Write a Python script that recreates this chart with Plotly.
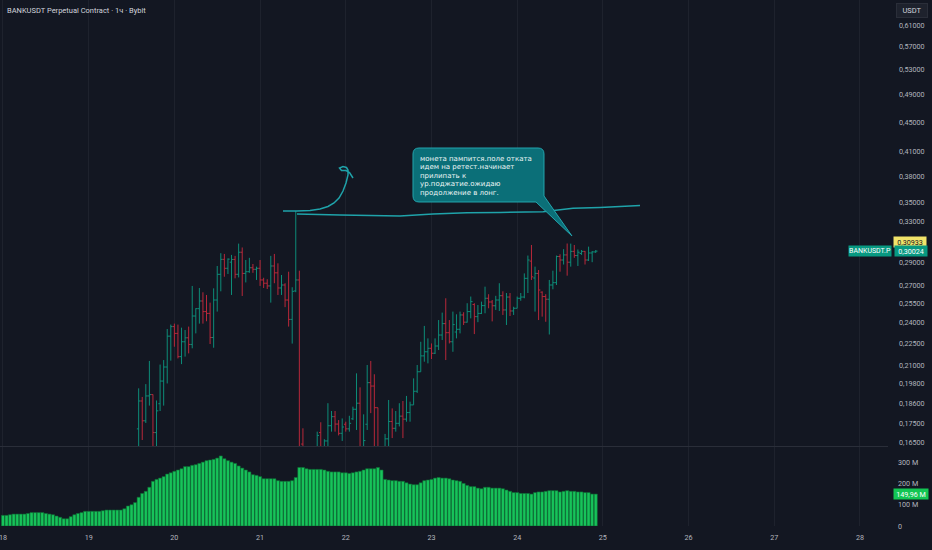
import math
import pandas as pd
import plotly.graph_objects as go
from plotly.subplots import make_subplots

# 1h bars (BANKUSDT.P, Bybit)
price_start = "2025-04-19 14:00"
open_ = [0.1720, 0.1877, 0.1764, 0.1907, 0.1915, 0.1700, 0.1861, 0.1998, 0.2088, 0.2300,
         0.2370, 0.2320, 0.2157, 0.2260, 0.2288, 0.2241, 0.2450, 0.2507, 0.2568, 0.2484,
         0.2470, 0.2290, 0.2576, 0.2792, 0.2926, 0.2845, 0.2900, 0.2925, 0.2792, 0.2992,
         0.2800, 0.2815, 0.2850, 0.2836, 0.2845, 0.2743, 0.2715, 0.2692, 0.2866, 0.2805,
         0.2675, 0.2700, 0.2576, 0.2424, 0.2650, 0.2743, 0.1640, 0.1580, 0.1560, 0.1540,
         0.1580, 0.1700, 0.1600, 0.1656, 0.1737, 0.1787, 0.1746, 0.1696, 0.1745, 0.1720,
         0.1775, 0.1829, 0.1864, 0.1620, 0.1745, 0.1988, 0.1967, 0.1838, 0.1600, 0.1580,
         0.1667, 0.1760, 0.1723, 0.1750, 0.1790, 0.1773, 0.1810, 0.1854, 0.1935, 0.2057,
         0.2162, 0.2190, 0.2214, 0.2180, 0.2230, 0.2308, 0.2392, 0.2325, 0.2260, 0.2330,
         0.2350, 0.2458, 0.2403, 0.2484, 0.2540, 0.2445, 0.2470, 0.2531, 0.2590, 0.2560,
         0.2530, 0.2576, 0.2611, 0.2497, 0.2600, 0.2489, 0.2510, 0.2590, 0.2600, 0.2757,
         0.2910, 0.2760, 0.2800, 0.2640, 0.2604, 0.2582, 0.2700, 0.2720, 0.2952, 0.2920,
         0.2967, 0.2900, 0.3000, 0.2961, 0.2980, 0.3000, 0.2920, 0.2985, 0.2995]
high = [0.1953, 0.1901, 0.1979, 0.2128, 0.1916, 0.1880, 0.2104, 0.2134, 0.2352, 0.2385,
        0.2392, 0.2385, 0.2362, 0.2345, 0.2370, 0.2692, 0.2510, 0.2675, 0.2639, 0.2617,
        0.2555, 0.2672, 0.2866, 0.2983, 0.2976, 0.2935, 0.2967, 0.2958, 0.3074, 0.3037,
        0.2920, 0.2940, 0.2884, 0.2860, 0.2920, 0.2762, 0.2749, 0.2958, 0.2976, 0.2890,
        0.2786, 0.2715, 0.2815, 0.2681, 0.3405, 0.2824, 0.1723, 0.1610, 0.1600, 0.1590,
        0.1705, 0.1756, 0.1665, 0.1864, 0.1819, 0.1819, 0.1768, 0.1777, 0.1759, 0.1792,
        0.1844, 0.2047, 0.1959, 0.1800, 0.2101, 0.2128, 0.2041, 0.1838, 0.1620, 0.1693,
        0.1883, 0.1834, 0.1819, 0.1864, 0.1877, 0.1907, 0.1873, 0.2015, 0.2101, 0.2260,
        0.2375, 0.2284, 0.2248, 0.2284, 0.2419, 0.2476, 0.2590, 0.2419, 0.2484, 0.2463,
        0.2484, 0.2479, 0.2550, 0.2604, 0.2550, 0.2536, 0.2563, 0.2686, 0.2623, 0.2576,
        0.2610, 0.2715, 0.2647, 0.2633, 0.2633, 0.2522, 0.2604, 0.2633, 0.2800, 0.2961,
        0.3061, 0.2860, 0.2830, 0.2647, 0.2623, 0.2743, 0.2824, 0.2961, 0.2973, 0.3021,
        0.3075, 0.3074, 0.3061, 0.3018, 0.3013, 0.3004, 0.3045, 0.3004, 0.3013]
low = [0.1580, 0.1661, 0.1752, 0.1850, 0.1600, 0.1620, 0.1819, 0.1850, 0.1983, 0.2130,
       0.2225, 0.2145, 0.2107, 0.2157, 0.2179, 0.2214, 0.2320, 0.2392, 0.2392, 0.2410,
       0.2244, 0.2218, 0.2484, 0.2647, 0.2771, 0.2795, 0.2617, 0.2757, 0.2765, 0.2609,
       0.2722, 0.2805, 0.2805, 0.2743, 0.2692, 0.2675, 0.2666, 0.2555, 0.2715, 0.2617,
       0.2617, 0.2519, 0.2370, 0.2247, 0.2640, 0.1520, 0.1550, 0.1520, 0.1500, 0.1490,
       0.1550, 0.1560, 0.1560, 0.1580, 0.1705, 0.1705, 0.1685, 0.1656, 0.1705, 0.1705,
       0.1768, 0.1714, 0.1580, 0.1580, 0.1714, 0.1807, 0.1580, 0.1560, 0.1550, 0.1570,
       0.1600, 0.1671, 0.1705, 0.1733, 0.1671, 0.1759, 0.1759, 0.1854, 0.1925, 0.2057,
       0.2123, 0.2112, 0.2141, 0.2175, 0.2202, 0.2272, 0.2134, 0.2248, 0.2190, 0.2284,
       0.2320, 0.2382, 0.2400, 0.2432, 0.2315, 0.2403, 0.2465, 0.2471, 0.2510, 0.2409,
       0.2497, 0.2489, 0.2458, 0.2382, 0.2450, 0.2458, 0.2510, 0.2570, 0.2590, 0.2633,
       0.2743, 0.2484, 0.2419, 0.2445, 0.2406, 0.2312, 0.2664, 0.2700, 0.2815, 0.2879,
       0.2780, 0.2860, 0.2940, 0.2866, 0.2967, 0.2879, 0.2911, 0.2900, 0.2985]
close = [0.1877, 0.1764, 0.1907, 0.1915, 0.1700, 0.1820, 0.1998, 0.2088, 0.2300, 0.2370,
         0.2320, 0.2157, 0.2260, 0.2288, 0.2241, 0.2450, 0.2507, 0.2568, 0.2484, 0.2470,
         0.2290, 0.2576, 0.2792, 0.2926, 0.2845, 0.2928, 0.2925, 0.2792, 0.2992, 0.2800,
         0.2815, 0.2850, 0.2836, 0.2845, 0.2743, 0.2715, 0.2692, 0.2866, 0.2805, 0.2675,
         0.2700, 0.2576, 0.2424, 0.2647, 0.2743, 0.1580, 0.1580, 0.1560, 0.1540, 0.1580,
         0.1685, 0.1600, 0.1656, 0.1737, 0.1787, 0.1746, 0.1696, 0.1730, 0.1720, 0.1750,
         0.1829, 0.1864, 0.1620, 0.1658, 0.1988, 0.1967, 0.1838, 0.1600, 0.1580, 0.1667,
         0.1760, 0.1723, 0.1750, 0.1790, 0.1773, 0.1810, 0.1854, 0.1935, 0.2057, 0.2162,
         0.2190, 0.2214, 0.2180, 0.2230, 0.2308, 0.2392, 0.2325, 0.2260, 0.2385, 0.2350,
         0.2458, 0.2403, 0.2484, 0.2563, 0.2445, 0.2470, 0.2531, 0.2590, 0.2560, 0.2530,
         0.2576, 0.2611, 0.2497, 0.2600, 0.2489, 0.2510, 0.2590, 0.2600, 0.2757, 0.2920,
         0.2770, 0.2800, 0.2658, 0.2604, 0.2582, 0.2700, 0.2720, 0.2952, 0.2920, 0.2967,
         0.2900, 0.3000, 0.2961, 0.2992, 0.3000, 0.2920, 0.2985, 0.2995, 0.30024]

# volume indicator, millions, one bar per hour
volume_start = "2025-04-18 00:00"
volume_m = [50, 50, 53, 56, 56, 56, 56, 59, 63, 63, 63, 63, 59, 56, 53, 47, 41, 34, 34, 44,
            53, 59, 63, 69, 69, 69, 69, 69, 72, 75, 75, 75, 75, 75, 81, 94, 100, 110, 135, 153,
            163, 182, 210, 219, 225, 232, 244, 250, 257, 263, 269, 279, 279, 285, 288, 294, 300, 307, 310, 313,
            319, 329, 316, 307, 300, 294, 282, 272, 263, 254, 241, 238, 232, 222, 222, 222, 222, 213, 210, 210,
            210, 213, 228, 275, 275, 269, 266, 266, 266, 266, 263, 257, 254, 254, 254, 250, 250, 247, 250, 254,
            257, 263, 269, 269, 269, 275, 263, 219, 216, 213, 213, 210, 210, 203, 197, 194, 194, 203, 213, 216,
            219, 225, 228, 225, 225, 222, 216, 213, 210, 200, 191, 185, 185, 178, 175, 182, 182, 178, 178, 178,
            175, 169, 163, 157, 157, 153, 153, 153, 150, 157, 160, 160, 163, 166, 166, 166, 160, 163, 166, 163,
            163, 160, 160, 157, 157, 150, 149.96]

day_ticks = list(range(18, 29))
price_ticks = [0.61, 0.57, 0.53, 0.49, 0.45, 0.41, 0.38, 0.35, 0.33, 0.29, 0.27, 0.255,
               0.24, 0.225, 0.21, 0.198, 0.186, 0.175, 0.165]
volume_ticks = [0, 100, 200, 300]
volume_tick_text = ["0", "100 M", "200 M", "300 M"]

level_price = 0.30933
last_price = 0.30024
last_volume = 149.96

note_lines = ["монета пампится.поле отката", "идем на ретест.начинает", "прилипать к",
              "ур.поджатие.ожидаю", "продолжение в лонг."]

BG = "#131722"
GRID = "#1e222d"
TXT = "#b2b5be"
UP = "#0d8c78"
DOWN = "#b8283a"
DRAW = "#1fa3aa"

# plot area in pixels (used for the hand-drawn bits)
PW, PH = 888, 526


def px(x):
    return x / PW


def py(y):
    return 1 - y / PH


def ru(v, d=5):
    return f"{v:.{d}f}".replace(".", ",")


price_time = pd.date_range(price_start, periods=len(close), freq="h")
volume_time = pd.date_range(volume_start, periods=len(volume_m), freq="h")
t0 = pd.Timestamp(volume_start)
x_range = [t0 - pd.Timedelta(minutes=50), t0 + pd.Timedelta(days=10.327)]
day_vals = [pd.Timestamp(2025, 4, d) for d in day_ticks]

fig = make_subplots(rows=2, cols=1, shared_xaxes=True, vertical_spacing=0.002)

fig.add_trace(go.Ohlc(x=price_time, open=open_, high=high, low=low, close=close,
                      increasing_line_color=UP, decreasing_line_color=DOWN,
                      line_width=1, tickwidth=0.5, hoverinfo="skip"), row=1, col=1)

fig.add_trace(go.Bar(x=volume_time, y=volume_m, marker_color="#17c35a",
                     marker_line_color="#0d6a34", marker_line_width=0.6,
                     hoverinfo="skip"), row=2, col=1)

axis_font = dict(family="Roboto", size=7.2, color=TXT)

fig.update_layout(
    width=932, height=550,
    margin=dict(l=0, r=44, t=0, b=24),
    paper_bgcolor=BG, plot_bgcolor=BG,
    showlegend=False, bargap=0.12,
    font=dict(family="Roboto", size=7.5, color=TXT),
    xaxis=dict(type="date", range=x_range, tickvals=day_vals, showticklabels=False,
               showgrid=True, gridcolor=GRID, gridwidth=1, zeroline=False,
               rangeslider=dict(visible=False), showline=True, linecolor="#2a2e39"),
    xaxis2=dict(type="date", range=x_range, tickvals=day_vals,
                ticktext=[str(d) for d in day_ticks], tickfont=axis_font,
                showgrid=True, gridcolor=GRID, zeroline=False, ticks="",
                ticklabelstandoff=6, ticklabeloverflow="allow",
                rangeslider=dict(visible=False)),
    yaxis=dict(type="log", domain=[80 / PH, 1],
               range=[math.log10(0.1630), math.log10(0.6597)],
               side="right", tickvals=price_ticks, ticktext=[ru(v) for v in price_ticks],
               tickfont=axis_font, showgrid=False, zeroline=False, ticks="",
               ticklabelstandoff=10, automargin=False),
    yaxis2=dict(domain=[0, 79 / PH], range=[0, 371], side="right",
                tickvals=volume_ticks, ticktext=volume_tick_text, tickfont=axis_font,
                showgrid=False, zeroline=False, ticks="",
                ticklabelstandoff=9, automargin=False),
)

shapes = []
# yellow horizontal level + dotted last price line
shapes.append(dict(type="line", xref="paper", yref="y", x0=0, x1=1,
                   y0=math.log10(level_price), y1=math.log10(level_price),
                   line=dict(color="#d4c23c", width=1.5)))
shapes.append(dict(type="line", xref="paper", yref="y", x0=0, x1=1,
                   y0=math.log10(last_price), y1=math.log10(last_price),
                   line=dict(color="#179b86", width=1, dash="dot")))


def poly(points):
    return "M " + " L ".join(f"{px(x):.5f},{py(y):.5f}" for x, y in points)


# hand drawn curve with hook
curve = [(283, 211), (297, 211), (310, 210.5), (320, 209), (328, 206.5), (334, 203),
         (339, 198), (343, 191), (346, 183), (348, 175), (348, 170), (346.5, 167.5),
         (343, 166.5), (339.5, 168), (341.5, 170.5), (346, 170.5), (349.5, 172.5), (353, 178)]
shapes.append(dict(type="path", xref="paper", yref="paper", path=poly(curve),
                   line=dict(color=DRAW, width=1.5), fillcolor="rgba(0,0,0,0)"))
# hand drawn near-horizontal line
hline = [(297, 214), (340, 215), (400, 216), (433, 214), (467, 212.7), (500, 212.5),
         (543, 211.7), (573, 208.3), (600, 207.5), (640, 205.5)]
shapes.append(dict(type="path", xref="paper", yref="paper", path=poly(hline),
                   line=dict(color=DRAW, width=1.5), fillcolor="rgba(0,0,0,0)"))

# callout box with tail
L_, T_, R_, B_, r = 413, 148, 544, 202, 6


def P(x, y):
    return f"{px(x):.5f},{py(y):.5f}"


callout = (f"M {P(L_ + r, T_)} L {P(R_ - r, T_)} Q {P(R_, T_)} {P(R_, T_ + r)} "
           f"L {P(R_, 196)} L {P(572, 236)} L {P(536, B_)} L {P(L_ + r, B_)} "
           f"Q {P(L_, B_)} {P(L_, B_ - r)} L {P(L_, T_ + r)} Q {P(L_, T_)} {P(L_ + r, T_)} Z")
shapes.append(dict(type="path", xref="paper", yref="paper", path=callout,
                   fillcolor="#0b6f78", line=dict(color="#23a5ae", width=1)))

fig.update_layout(shapes=shapes)

ann = []
ann.append(dict(xref="paper", yref="paper", x=px(5), y=py(10), xanchor="left", yanchor="middle",
                text="BANKUSDT Perpetual Contract · 1ч · Bybit", showarrow=False,
                font=dict(family="Roboto", size=7.5, color="#d1d4dc")))
for i, line in enumerate(note_lines):
    ann.append(dict(xref="paper", yref="paper", x=px(418), y=py(159 + 8.4 * i),
                    xanchor="left", yanchor="middle", text=line, showarrow=False,
                    font=dict(family="DejaVu Sans", size=7, color="#eef6f6")))

# price scale labels
ann.append(dict(xref="paper", yref="y", x=1, xshift=5, y=math.log10(level_price),
                xanchor="left", yanchor="middle", text=ru(level_price), showarrow=False,
                width=32, height=10, bgcolor="#f2e46a", borderpad=0,
                font=dict(family="Roboto", size=7.2, color="#131722")))
ann.append(dict(xref="paper", yref="y", x=1, xshift=6, y=math.log10(last_price),
                xanchor="left", yanchor="middle", text=ru(last_price), showarrow=False,
                width=32, height=10, bgcolor="#089981", borderpad=0,
                font=dict(family="Roboto", size=7.2, color="#ffffff")))
ann.append(dict(xref="paper", yref="y", x=1, xshift=4, y=math.log10(last_price),
                xanchor="right", yanchor="middle", text="BANKUSDT.P", showarrow=False,
                width=42, height=10, bgcolor="#089981", borderpad=0,
                font=dict(family="Roboto", size=7, color="#ffffff")))
ann.append(dict(xref="paper", yref="y2", x=1, xshift=5, y=last_volume,
                xanchor="left", yanchor="middle", text=ru(last_volume, 2) + " M", showarrow=False,
                width=34, height=10, bgcolor="#13c653", borderpad=0,
                font=dict(family="Roboto", size=7.2, color="#ffffff")))
ann.append(dict(xref="paper", yref="paper", x=px(912), y=py(10.5),
                xanchor="center", yanchor="middle", text="USDT", showarrow=False,
                width=30, height=13, bgcolor="#1e222d", bordercolor="#2a2e39", borderwidth=1,
                borderpad=0, font=dict(family="Roboto", size=7.5, color="#d1d4dc")))
fig.update_layout(annotations=ann)

# the page's default 8px body margin would shift the figure, so drop it
fig.write_html("out.html", config={"displayModeBar": False},
               post_script="document.body.style.margin='0';document.body.style.background='#131722';")
